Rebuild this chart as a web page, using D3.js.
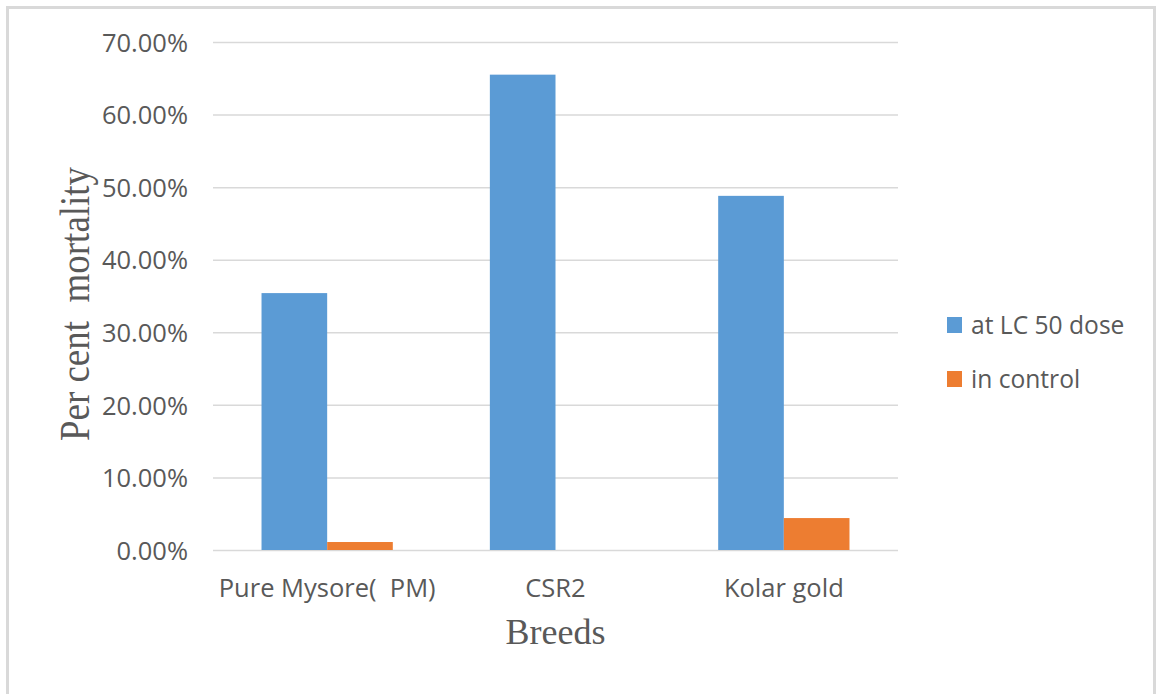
<!DOCTYPE html>
<html>
<head>
<meta charset="utf-8">
<script src="https://cdn.jsdelivr.net/npm/d3@7"></script>
<style>
  html, body { margin: 0; padding: 0; background: #fff; }
  svg { display: block; }
  text { white-space: pre; }
</style>
</head>
<body>
<svg id="chart" width="1156" height="694"></svg>
<script>
// Breeds on the x axis and the two mortality series
const breeds = ["Pure Mysore(  PM)", "CSR2", "Kolar gold"];
const seriesNames = ["at LC 50 dose", "in control"];
const lc50Dose = [0.354, 0.655, 0.488];
const inControl = [0.011, 0, 0.044];
const yTicks = [0, 0.1, 0.2, 0.3, 0.4, 0.5, 0.6, 0.7];
const colors = ["#5b9bd5", "#ed7d31"];

const svg = d3.select("#chart");
const W = 1156, H = 694;
const plot = { left: 213, right: 898, top: 42, bottom: 550 };

// outer frame
svg.append("rect")
  .attr("x", 7.5).attr("y", 7.5)
  .attr("width", W - 9).attr("height", H + 20)
  .attr("fill", "#fff")
  .attr("stroke", "#d9d9d9").attr("stroke-width", 3);

const x0 = d3.scaleBand()
  .domain(breeds)
  .range([plot.left, plot.right])
  .paddingInner(0.425)
  .paddingOuter(0.2125);

const x1 = d3.scaleBand()
  .domain(seriesNames)
  .range([0, x0.bandwidth()]);

const y = d3.scaleLinear()
  .domain([0, 0.7])
  .range([plot.bottom, plot.top]);

// gridlines + y tick labels
const yAxis = d3.axisLeft(y)
  .tickValues(yTicks)
  .tickFormat(d3.format(".2%"))
  .tickSize(-(plot.right - plot.left))
  .tickPadding(25);

const gy = svg.append("g")
  .attr("transform", `translate(${plot.left},0)`)
  .call(yAxis);
gy.select(".domain").remove();
gy.selectAll(".tick line")
  .attr("stroke", "#d9d9d9")
  .attr("stroke-width", 1.5);
gy.selectAll(".tick text")
  .attr("fill", "#595959")
  .attr("font-family", "'Open Sans', sans-serif")
  .attr("font-size", "25.5px")
  .attr("dy", "0.36em");

// bars
const rows = breeds.map((b, i) => ({
  breed: b,
  values: [
    { key: seriesNames[0], value: lc50Dose[i], color: colors[0] },
    { key: seriesNames[1], value: inControl[i], color: colors[1] }
  ]
}));

const groups = svg.append("g")
  .selectAll("g")
  .data(rows)
  .join("g")
  .attr("transform", d => `translate(${x0(d.breed)},0)`);

groups.selectAll("rect")
  .data(d => d.values.filter(v => v.value > 0))
  .join("rect")
  .attr("x", d => x1(d.key))
  .attr("y", d => y(d.value))
  .attr("width", x1.bandwidth())
  .attr("height", d => y(0) - y(d.value))
  .attr("fill", d => d.color);

// category labels
const xAxis = d3.axisBottom(x0).tickSize(0).tickPadding(0);
const gx = svg.append("g")
  .attr("transform", `translate(0,${plot.bottom})`)
  .call(xAxis);
gx.select(".domain").remove();
gx.selectAll(".tick text")
  .attr("fill", "#595959")
  .attr("font-family", "'Open Sans', sans-serif")
  .attr("font-size", "25.5px")
  .attr("y", 46.5)
  .attr("dy", 0);

// axis titles
svg.append("text")
  .attr("x", (plot.left + plot.right) / 2)
  .attr("y", 644)
  .attr("text-anchor", "middle")
  .attr("fill", "#595959")
  .attr("font-family", "'Liberation Serif', 'Times New Roman', serif")
  .attr("font-size", "36px")
  .text("Breeds");

svg.append("text")
  .attr("transform", "translate(89,304) rotate(-90) scale(1,1.12)")
  .attr("text-anchor", "middle")
  .attr("fill", "#595959")
  .attr("font-family", "'Liberation Serif', 'Times New Roman', serif")
  .attr("font-size", "37px")
  .text("Per cent  mortality");

// legend
const legend = svg.append("g")
  .selectAll("g")
  .data(seriesNames)
  .join("g")
  .attr("transform", (d, i) => `translate(947,${317 + i * 54})`);

legend.append("rect")
  .attr("width", 15).attr("height", 16)
  .attr("fill", (d, i) => colors[i]);

legend.append("text")
  .attr("x", 24)
  .attr("y", 17)
  .attr("fill", "#595959")
  .attr("font-family", "'Open Sans', sans-serif")
  .attr("font-size", "24.6px")
  .text(d => d);
</script>
</body>
</html>
